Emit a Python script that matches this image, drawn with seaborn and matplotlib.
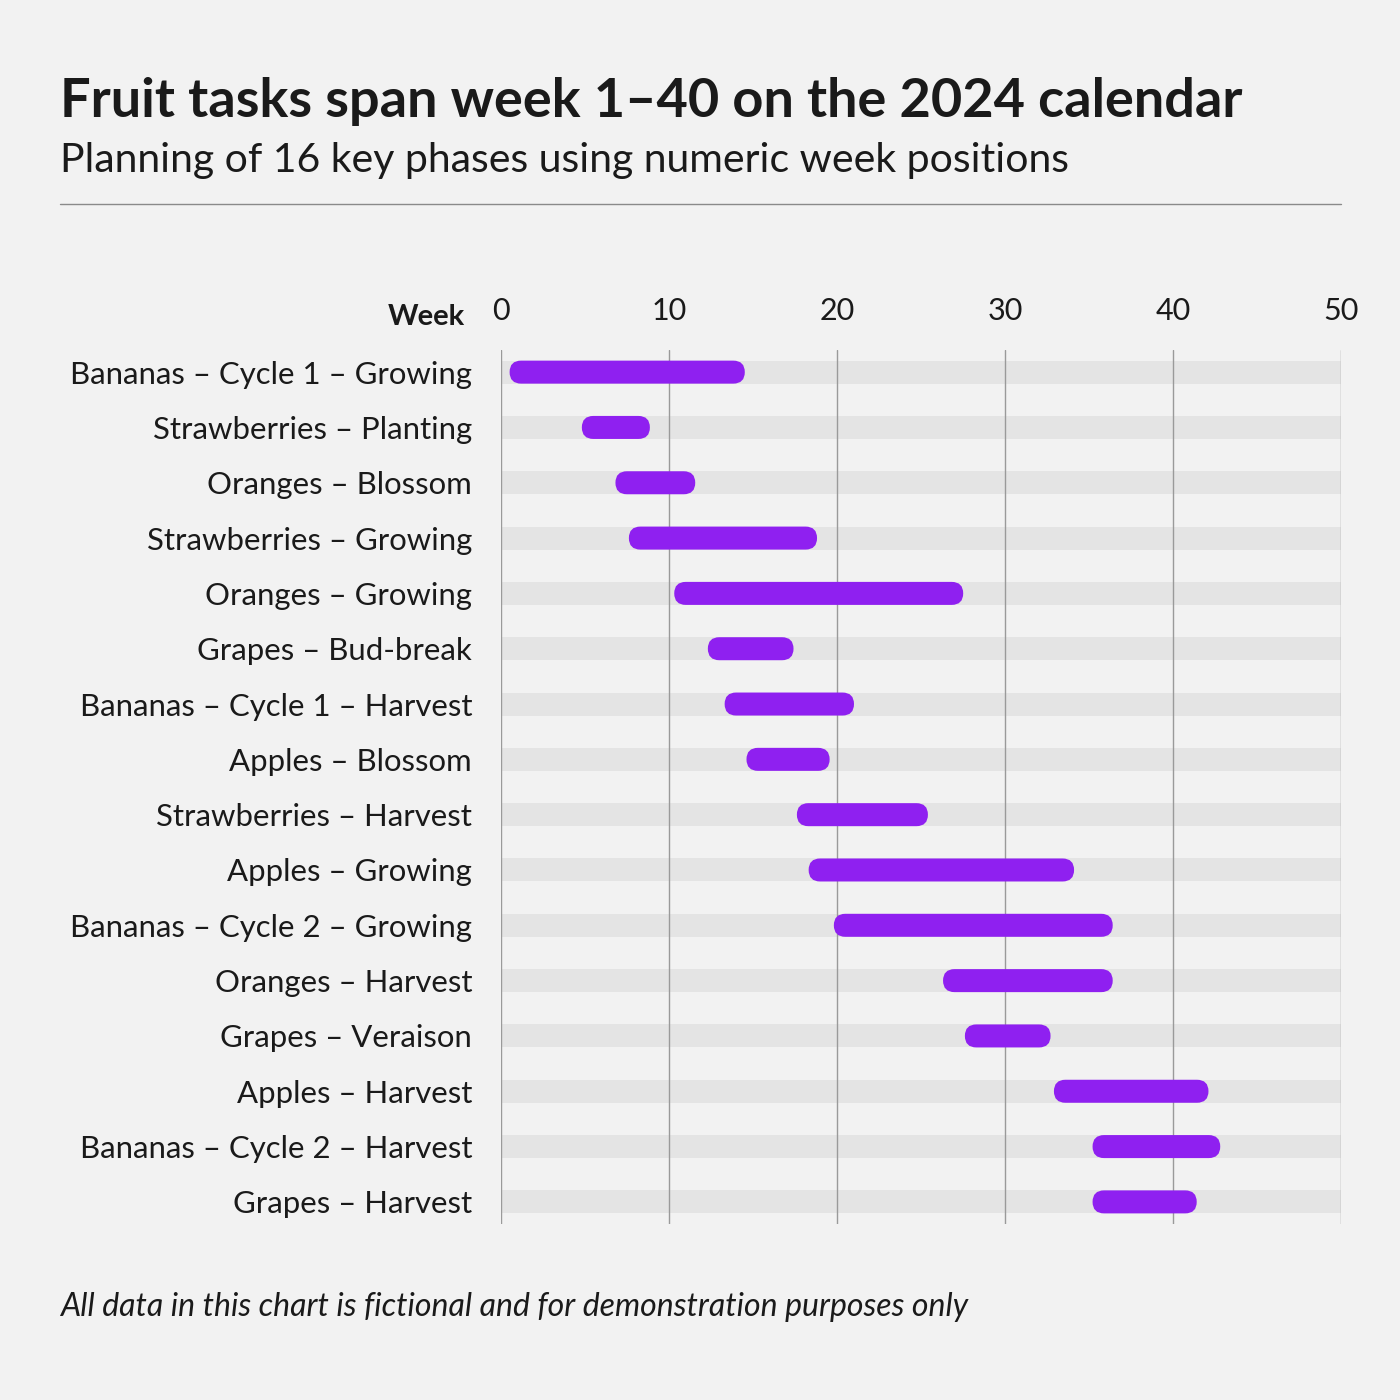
import numpy as np
import pandas as pd
import seaborn as sns
import matplotlib.pyplot as plt
from matplotlib.patches import FancyBboxPatch

tasks = [
    "Bananas – Cycle 1 – Growing",
    "Strawberries – Planting",
    "Oranges – Blossom",
    "Strawberries – Growing",
    "Oranges – Growing",
    "Grapes – Bud-break",
    "Bananas – Cycle 1 – Harvest",
    "Apples – Blossom",
    "Strawberries – Harvest",
    "Apples – Growing",
    "Bananas – Cycle 2 – Growing",
    "Oranges – Harvest",
    "Grapes – Veraison",
    "Apples – Harvest",
    "Bananas – Cycle 2 – Harvest",
    "Grapes – Harvest",
]
start_week = [0.5, 4.8, 6.8, 7.6, 10.3, 12.3, 13.3, 14.6, 17.6, 18.3, 19.8, 26.3, 27.6, 32.9, 35.2, 35.2]
end_week = [14.5, 8.85, 11.55, 18.8, 27.5, 17.4, 21.0, 19.55, 25.4, 34.1, 36.4, 36.4, 32.7, 42.1, 42.8, 41.4]
week_ticks = [0, 10, 20, 30, 40, 50]

BG = "#f2f2f2"
TRACK = "#e4e4e4"
PURPLE = "#8f20f0"
INK = "#1a1a1a"

sns.set_theme(style="white")
plt.rcParams["font.family"] = ["Lato", "DejaVu Sans"]

df = pd.DataFrame({"task": tasks, "start": start_week, "end": end_week})
df["track"] = week_ticks[-1]

fig = plt.figure(figsize=(14, 14), dpi=100, facecolor=BG)
ax = fig.add_axes([0.358, 0.1257, 0.6, 0.6243])
ax.set_facecolor(BG)

bar_h = 0.416
# grey tracks behind every row
sns.barplot(data=df, x="track", y="task", color=TRACK, width=bar_h,
            saturation=1, linewidth=0, ax=ax, zorder=1)

ax.set_xlim(week_ticks[0], week_ticks[-1])
ax.set_ylim(len(tasks) - 1 + 0.4, -0.4)
ax.set_xticks(week_ticks)
ax.set_axisbelow(False)
ax.xaxis.grid(True, color="#9a9a9a", lw=1, zorder=2)
ax.yaxis.grid(False)
for s in ax.spines.values():
    s.set_visible(False)

ax.tick_params(axis="x", top=True, bottom=False, labeltop=True, labelbottom=False,
               length=0, pad=18, labelsize=22, labelcolor=INK)
ax.tick_params(axis="y", length=0, pad=21, labelsize=22.4, labelcolor=INK)
ax.set_xlabel("")
ax.set_ylabel("")

# rounded task bars
px_x = ax.transData.transform((1, 0))[0] - ax.transData.transform((0, 0))[0]
px_y = abs(ax.transData.transform((0, 1))[1] - ax.transData.transform((0, 0))[1])
aspect = px_x / px_y
for i, row in df.iterrows():
    ax.add_patch(FancyBboxPatch(
        (row["start"], i - bar_h / 2), row["end"] - row["start"], bar_h,
        boxstyle=f"round,pad=0,rounding_size={bar_h / 2 / aspect}",
        mutation_aspect=aspect, fc=PURPLE, ec="none", zorder=3))

fig.text(465 / 1400, 1 - 325 / 1400, "Week", ha="right", va="baseline",
         fontsize=21, fontweight="bold", color=INK)

fig.text(60 / 1400, 1 - 117 / 1400, "Fruit tasks span week 1–40 on the 2024 calendar",
         ha="left", va="baseline", fontsize=39, fontweight="bold", color=INK)
fig.text(60 / 1400, 1 - 172 / 1400, "Planning of 16 key phases using numeric week positions",
         ha="left", va="baseline", fontsize=29.5, color=INK)
fig.add_artist(plt.Line2D([60 / 1400, 1341 / 1400], [1 - 204 / 1400] * 2,
                          color="#8a8a8a", lw=1))
fig.text(60 / 1400, 1 - 1316 / 1400,
         "All data in this chart is fictional and for demonstration purposes only",
         ha="left", va="baseline", fontsize=23, style="italic", color=INK)

fig.savefig("out.png", dpi=100, facecolor=BG)
